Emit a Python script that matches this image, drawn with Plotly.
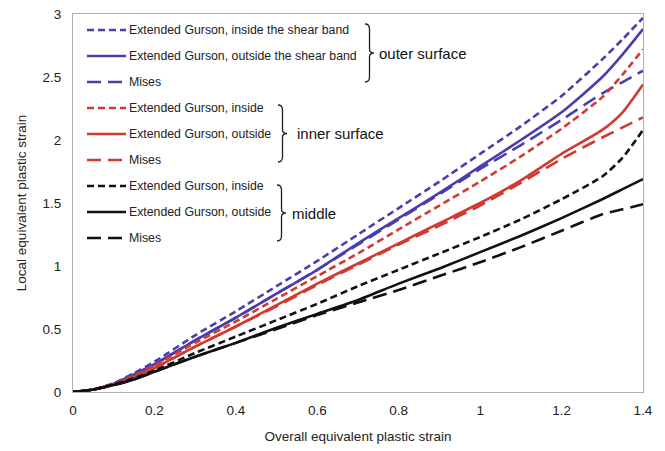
import plotly.graph_objects as go

# ---------------- data ----------------
x_vals = [0, 0.05, 0.1, 0.15, 0.2, 0.3, 0.4, 0.5, 0.6, 0.7, 0.8, 0.9, 1.0, 1.1, 1.2, 1.3, 1.35, 1.4]

outer_inside  = [0, 0.02, 0.07, 0.15, 0.24, 0.45, 0.64, 0.84, 1.04, 1.25, 1.46, 1.67, 1.89, 2.11, 2.35, 2.64, 2.80, 2.97]
outer_outside = [0, 0.02, 0.065, 0.14, 0.22, 0.41, 0.59, 0.78, 0.97, 1.18, 1.38, 1.58, 1.79, 2.00, 2.22, 2.50, 2.68, 2.88]
outer_mises   = [0, 0.02, 0.065, 0.14, 0.22, 0.41, 0.59, 0.78, 0.97, 1.17, 1.37, 1.57, 1.77, 1.96, 2.16, 2.37, 2.46, 2.55]

inner_inside  = [0, 0.02, 0.065, 0.13, 0.21, 0.39, 0.56, 0.74, 0.92, 1.10, 1.29, 1.48, 1.67, 1.87, 2.09, 2.34, 2.52, 2.72]
inner_outside = [0, 0.02, 0.06, 0.12, 0.19, 0.36, 0.52, 0.69, 0.86, 1.02, 1.18, 1.34, 1.50, 1.68, 1.89, 2.08, 2.22, 2.44]
inner_mises   = [0, 0.02, 0.06, 0.12, 0.19, 0.36, 0.52, 0.68, 0.85, 1.01, 1.17, 1.32, 1.48, 1.66, 1.85, 2.02, 2.10, 2.18]

middle_inside  = [0, 0.02, 0.06, 0.11, 0.17, 0.31, 0.44, 0.57, 0.70, 0.84, 0.97, 1.10, 1.23, 1.37, 1.53, 1.71, 1.86, 2.08]
middle_outside = [0, 0.02, 0.055, 0.10, 0.16, 0.28, 0.39, 0.51, 0.62, 0.73, 0.86, 0.98, 1.11, 1.24, 1.38, 1.53, 1.61, 1.69]
middle_mises   = [0, 0.02, 0.055, 0.10, 0.16, 0.28, 0.39, 0.50, 0.61, 0.71, 0.81, 0.92, 1.03, 1.15, 1.28, 1.41, 1.45, 1.49]

x_ticks = [0, 0.2, 0.4, 0.6, 0.8, 1.0, 1.2, 1.4]
x_tick_labels = ["0", "0.2", "0.4", "0.6", "0.8", "1", "1.2", "1.4"]
y_ticks = [0, 0.5, 1, 1.5, 2, 2.5, 3]
y_tick_labels = ["0", "0.5", "1", "1.5", "2", "2.5", "3"]

legend_labels = [
    "Extended Gurson, inside the shear band",
    "Extended Gurson, outside the shear band",
    "Mises",
    "Extended Gurson, inside",
    "Extended Gurson, outside",
    "Mises",
    "Extended Gurson, inside",
    "Extended Gurson, outside",
    "Mises",
]
group_labels = ["outer surface", "inner surface", "middle"]

# ---------------- style ----------------
BLUE = "#4a3dae"
RED = "#d03a30"
BLACK = "#111111"
SHORT = "7px,4px"
LONG = "14px,7px"

series = [
    (outer_inside, BLUE, SHORT), (outer_outside, BLUE, "solid"), (outer_mises, BLUE, LONG),
    (inner_inside, RED, SHORT), (inner_outside, RED, "solid"), (inner_mises, RED, LONG),
    (middle_inside, BLACK, SHORT), (middle_outside, BLACK, "solid"), (middle_mises, BLACK, LONG),
]

W, H = 665, 451
ML, MR, MT, MB = 73, 22, 14, 59
XR = (0, 1.4)
YR = (0, 3)
PW, PH = W - ML - MR, H - MT - MB


def px2x(px):
    return XR[0] + (px - ML) / PW * (XR[1] - XR[0])


def py2y(py):
    return YR[0] + (H - MB - py) / PH * (YR[1] - YR[0])


fig = go.Figure()
for ys, col, dash in series:
    fig.add_trace(go.Scatter(x=x_vals, y=ys, mode="lines", showlegend=False,
                             line=dict(color=col, width=2.6, dash=dash, shape="spline", smoothing=0.6)))

shapes = []
annotations = []
FONT = "Liberation Sans, Arial, sans-serif"

# custom legend
row_y = [30, 56, 82, 108, 134, 160, 186, 212, 238]
for i, (lab, (ys, col, dash)) in enumerate(zip(legend_labels, series)):
    yy = py2y(row_y[i])
    shapes.append(dict(type="line", xref="x", yref="y", x0=px2x(87), x1=px2x(126), y0=yy, y1=yy,
                       line=dict(color=col, width=2.6, dash=dash)))
    annotations.append(dict(x=px2x(127), y=yy, xref="x", yref="y", text=lab, showarrow=False,
                            xanchor="left", yanchor="middle",
                            font=dict(family=FONT, size=12.3, color="#222222")))


def brace(x0, ytop, ybot, w=9):
    ym = (ytop + ybot) / 2
    xm = x0 + w * 0.5

    def P(a, b):
        return f"{px2x(a)},{py2y(b)}"
    path = (f"M {P(x0, ytop)} Q {P(xm, ytop)} {P(xm, ytop + 5)} L {P(xm, ym - 4)} "
            f"Q {P(xm, ym)} {P(x0 + w, ym)} Q {P(xm, ym)} {P(xm, ym + 4)} "
            f"L {P(xm, ybot - 5)} Q {P(xm, ybot)} {P(x0, ybot)}")
    return dict(type="path", xref="x", yref="y", path=path, line=dict(color="#222222", width=1.3))


braces = [(365, 24, 82), (278, 105, 162), (277, 185, 241)]
label_pos = [(377, 53), (295, 133), (290, 213)]
for (bx, bt, bb), (lx, ly), g in zip(braces, label_pos, group_labels):
    shapes.append(brace(bx, bt, bb))
    annotations.append(dict(x=px2x(lx), y=py2y(ly), xref="x", yref="y", text=g, showarrow=False,
                            xanchor="left", yanchor="middle",
                            font=dict(family=FONT, size=15, color="#111111")))

fig.update_layout(
    width=W, height=H,
    margin=dict(l=ML, r=MR, t=MT, b=MB),
    paper_bgcolor="white", plot_bgcolor="white",
    shapes=shapes, annotations=annotations,
    font=dict(family=FONT, size=13, color="#222222"),
)
fig.update_xaxes(range=list(XR), tickvals=x_ticks, ticktext=x_tick_labels, showgrid=False, zeroline=False,
                 showline=True, linecolor="#b0b0b0", linewidth=1, mirror=True, ticks="",
                 ticklabelstandoff=6, automargin=False,
                 title=dict(text="Overall equivalent plastic strain", font=dict(size=13.5), standoff=14),
                 tickfont=dict(size=13.5))
fig.update_yaxes(range=list(YR), tickvals=y_ticks, ticktext=y_tick_labels, showgrid=False, zeroline=False,
                 showline=True, linecolor="#b0b0b0", linewidth=1, mirror=True, ticks="",
                 ticklabelstandoff=8, automargin=False,
                 title=dict(text="Local equivalent plastic strain", font=dict(size=13.5), standoff=12),
                 tickfont=dict(size=13.5))

fig.write_html("out.html")
